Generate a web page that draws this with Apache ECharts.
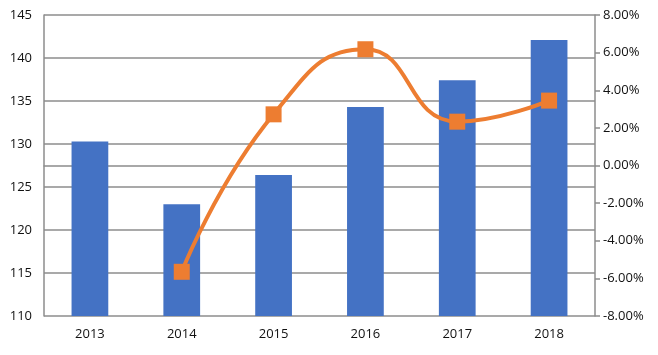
<!DOCTYPE html>
<html><head><meta charset="utf-8">
<script src="https://cdn.jsdelivr.net/npm/echarts@6/dist/echarts.min.js"></script>
<style>html,body{margin:0;padding:0;background:#fff}#c{width:658px;height:355px}</style>
</head><body><div id="c"></div>
<script>
const categories = ['2013','2014','2015','2016','2017','2018'];
const barValues = [130.3, 123.0, 126.4, 134.3, 137.4, 142.1];
const growthPct = [null, -5.65, 2.72, 6.18, 2.33, 3.45];
const leftTicks = {min:110, max:145, interval:5};
const rightTicks = {min:-8, max:8, interval:2};

const gray = '#8c8c8c';
const font = 'Open Sans';
const chart = echarts.init(document.getElementById('c'), null, {renderer:'canvas'});
chart.setOption({
  animation:false,
  grid:{left:44, right:63, top:15, bottom:39},
  xAxis:{type:'category', data:categories,
    axisLine:{lineStyle:{color:gray, width:1.5}}, axisTick:{show:false},
    axisLabel:{color:'#111', fontFamily:font, fontSize:13, margin:12}},
  yAxis:[
    {type:'value', min:leftTicks.min, max:leftTicks.max, interval:leftTicks.interval,
     axisLine:{show:true, lineStyle:{color:gray, width:1.5}}, axisTick:{show:false},
     splitLine:{lineStyle:{color:gray, width:1.5}},
     axisLabel:{color:'#111', fontFamily:font, fontSize:13, margin:12}},
    {type:'value', min:rightTicks.min, max:rightTicks.max, interval:rightTicks.interval,
     axisLine:{show:true, lineStyle:{color:gray, width:1.5}},
     axisTick:{show:true, length:5, lineStyle:{color:gray, width:1.5}},
     splitLine:{show:false},
     axisLabel:{color:'#111', fontFamily:font, fontSize:13, margin:8,
       formatter:v=>v.toFixed(2)+'%'}}
  ],
  series:[
    {type:'bar', data:barValues, barWidth:'40%', itemStyle:{color:'#4472C4'}, yAxisIndex:0},
    {type:'line', data:growthPct, yAxisIndex:1, smooth:0.5, connectNulls:false,
     symbol:'rect', symbolSize:16, lineStyle:{color:'#ED7D31', width:4},
     itemStyle:{color:'#ED7D31'}}
  ]
});
</script></body></html>
